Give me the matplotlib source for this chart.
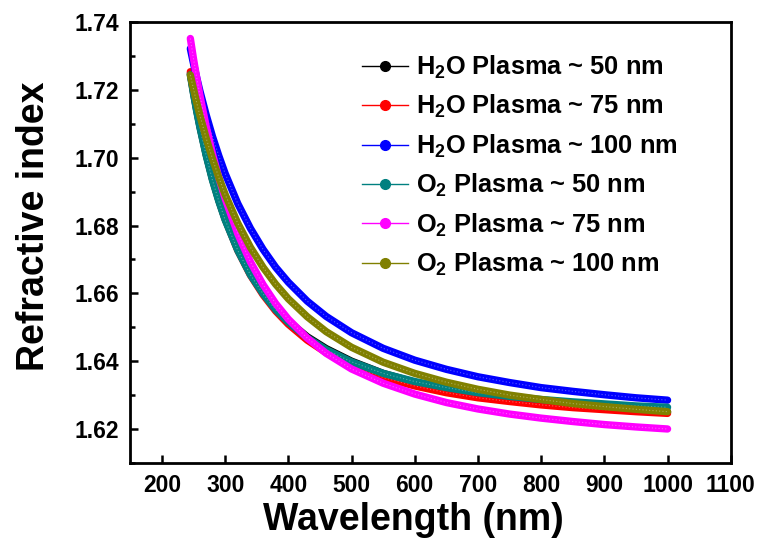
import matplotlib
matplotlib.use("Agg")
import matplotlib.pyplot as plt
from matplotlib.lines import Line2D
from matplotlib.ticker import MultipleLocator

plt.rcParams['font.family'] = ['Liberation Sans', 'DejaVu Sans']
plt.rcParams['font.weight'] = 'bold'
plt.rcParams['mathtext.fontset'] = 'custom'
plt.rcParams['mathtext.rm'] = 'Liberation Sans:bold'
plt.rcParams['mathtext.bf'] = 'Liberation Sans:bold'
plt.rcParams['mathtext.it'] = 'Liberation Sans:bold'

# Wavelength grid (nm)
wavelength = [245, 250, 255, 260, 270, 280, 290, 300, 320, 340, 360, 380, 400,
              430, 460, 500, 550, 600, 650, 700, 750, 800, 850, 900, 950, 1000]

# Refractive index of each film
n_h2o_50 = [1.7248, 1.7192, 1.7141, 1.7094, 1.7010, 1.6937, 1.6875, 1.6820, 1.6730,
            1.6658, 1.6602, 1.6555, 1.6518, 1.6472, 1.6437, 1.6400, 1.6364, 1.6338,
            1.6318, 1.6302, 1.6290, 1.6279, 1.6271, 1.6263, 1.6256, 1.6250]
n_h2o_75 = [1.7254, 1.7198, 1.7147, 1.7099, 1.7013, 1.6940, 1.6876, 1.6820, 1.6727,
            1.6654, 1.6596, 1.6548, 1.6509, 1.6462, 1.6425, 1.6387, 1.6352, 1.6327,
            1.6307, 1.6292, 1.6281, 1.6271, 1.6263, 1.6257, 1.6251, 1.6246]
n_h2o_100 = [1.7322, 1.7278, 1.7237, 1.7198, 1.7127, 1.7063, 1.7006, 1.6954, 1.6865,
             1.6792, 1.6730, 1.6677, 1.6633, 1.6577, 1.6532, 1.6484, 1.6438, 1.6403,
             1.6376, 1.6354, 1.6337, 1.6322, 1.6311, 1.6301, 1.6292, 1.6285]
n_o2_50 = [1.7245, 1.7189, 1.7138, 1.7091, 1.7007, 1.6934, 1.6872, 1.6817, 1.6727,
           1.6655, 1.6599, 1.6552, 1.6515, 1.6469, 1.6434, 1.6398, 1.6364, 1.6340,
           1.6322, 1.6307, 1.6296, 1.6287, 1.6280, 1.6274, 1.6268, 1.6264]
n_o2_75 = [1.7352, 1.7292, 1.7237, 1.7185, 1.7093, 1.7012, 1.6942, 1.6880, 1.6776,
           1.6693, 1.6626, 1.6570, 1.6524, 1.6468, 1.6423, 1.6377, 1.6335, 1.6303,
           1.6278, 1.6259, 1.6244, 1.6232, 1.6222, 1.6213, 1.6206, 1.6200]
n_o2_100 = [1.7244, 1.7203, 1.7163, 1.7126, 1.7058, 1.6997, 1.6942, 1.6892, 1.6807,
            1.6736, 1.6677, 1.6627, 1.6584, 1.6531, 1.6487, 1.6441, 1.6397, 1.6364,
            1.6338, 1.6317, 1.6300, 1.6287, 1.6275, 1.6266, 1.6258, 1.6251]

labels = [r'H$_2$O Plasma ~ 50 nm', r'H$_2$O Plasma ~ 75 nm', r'H$_2$O Plasma ~ 100 nm',
          r'O$_2$ Plasma ~ 50 nm', r'O$_2$ Plasma ~ 75 nm', r'O$_2$ Plasma ~ 100 nm']
colors = ['#000000', '#ff0000', '#0000ff', '#008080', '#ff00ff', '#808000']
series = [n_h2o_50, n_h2o_75, n_h2o_100, n_o2_50, n_o2_75, n_o2_100]

fig = plt.figure(figsize=(7.62, 5.42), dpi=100)
ax = fig.add_axes([0.171, 0.146, 0.788, 0.813])

for n, c in zip(series, colors):
    ax.plot(wavelength, n, color=c, lw=5.3, solid_capstyle='round',
            solid_joinstyle='round', zorder=2)
    ax.plot(wavelength, n, color='white', lw=0.8, alpha=0.35,
            linestyle=(0, (1, 2)), zorder=2)

ax.set_xlim(150, 1100)
ax.set_ylim(1.61, 1.74)
ax.set_xticks(range(200, 1101, 100))
ax.set_yticks([1.62, 1.64, 1.66, 1.68, 1.70, 1.72, 1.74])
ax.set_yticklabels(['1.62', '1.64', '1.66', '1.68', '1.70', '1.72', '1.74'])
ax.yaxis.set_minor_locator(MultipleLocator(0.01))

for s in ax.spines.values():
    s.set_linewidth(2.0)
ax.tick_params(which='major', direction='in', length=6, width=1.8,
               labelsize=16.5, pad=8)
ax.tick_params(which='minor', direction='in', length=3.5, width=1.8)
for lab in ax.get_xticklabels() + ax.get_yticklabels():
    lab.set_fontweight('bold')

ax.set_xlabel('Wavelength (nm)', fontsize=27, fontweight='bold')
ax.xaxis.set_label_coords(0.471, -0.088)
ax.set_ylabel('Refractive index', fontsize=27, fontweight='bold')
ax.yaxis.set_label_coords(-0.13, 0.537)

handles = [Line2D([0], [0], color=c, lw=1.0, marker='o', markersize=7,
                  markerfacecolor=c, markeredgecolor=c) for c in colors]
ax.legend(handles, labels, loc='upper left', bbox_to_anchor=(0.36, 0.963),
          frameon=False, fontsize=18.3, handlelength=1.81, handletextpad=0.32,
          labelspacing=0.48, borderaxespad=0.2)

fig.savefig('out.png', dpi=100)
